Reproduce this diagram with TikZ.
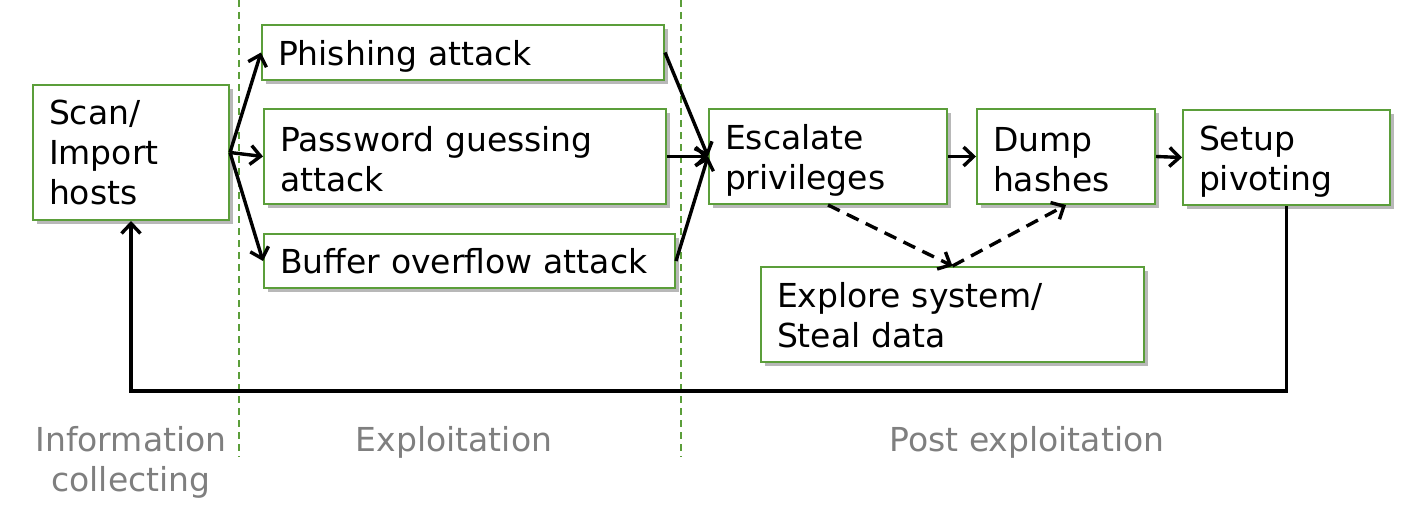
\documentclass[tikz,border=0pt]{standalone}
\usepackage{fontspec}
\setmainfont{DejaVu Sans}
\usetikzlibrary{arrows.meta,shadows}
\definecolor{boxgreen}{HTML}{5B9E3A}
\definecolor{labelgray}{HTML}{7F7F7F}
\begin{document}
\begin{tikzpicture}[x=1pt,y=-1pt,
  box/.style={draw=boxgreen, line width=2pt, fill=white, inner xsep=16pt, inner ysep=0pt,
    align=left, font=\fontsize{33}{40}\selectfont,
    drop shadow={shadow xshift=4pt,shadow yshift=-4pt,fill=black,opacity=0.28}},
  arr/.style={line width=3.4pt, line join=miter, -{Straight Barb[length=10pt,width=19pt]}},
  darr/.style={arr, dash pattern=on 13pt off 8pt},
  phase/.style={draw=boxgreen, line width=1.5pt, dash pattern=on 7pt off 5pt},
  lbl/.style={text=labelgray, align=center, font=\fontsize{33}{40}\selectfont, inner sep=0pt}]
\useasboundingbox (0,0) rectangle (1405,519);

% phase separators
\coordinate (d1t) at (239,0);
\coordinate (d1b) at (239,457);
\coordinate (d2t) at (681,0);
\coordinate (d2b) at (681,457);
\draw[phase] (d1t) -- (d1b);
\draw[phase] (d2t) -- (d2b);

% boxes
\node[box, text width=164pt, minimum height=135pt] (scan) at (131,152.5) {Scan/\\Import\\hosts};
\node[box, text width=370pt, minimum height=55pt] (phish) at (463,52.5) {\rule{0pt}{33pt}Phishing attack};
\node[box, text width=370pt, minimum height=95pt] (pass) at (465,156.5) {\rule{0pt}{30pt}Password guessing\\attack};
\node[box, text width=379pt, minimum height=54pt] (buf) at (469.5,261) {Buffer overflow attack};
\node[box, text width=206pt, minimum height=95pt] (esc) at (828,156.5) {\rule{0pt}{33pt}Escalate\\privileges};
\node[box, text width=146pt, minimum height=95pt] (dump) at (1066,156.5) {\rule{0pt}{30pt}Dump\\hashes};
\node[box, text width=175pt, minimum height=95pt] (setup) at (1286.5,157.5) {\rule{0pt}{33pt}Setup\\pivoting};
\node[box, text width=351pt, minimum height=95pt] (expl) at (952.5,314.5) {\rule{0pt}{27pt}Explore system/\\Steal data};

% connectors
\draw[arr] (scan.east) -- (phish.west);
\draw[arr] (scan.east) -- (pass.west);
\draw[arr] (scan.east) -- (buf.west);
\draw[arr] (phish.east) -- (esc.west);
\draw[arr] (pass.east) -- (esc.west);
\draw[arr] (buf.east) -- (esc.west);
\draw[arr] (esc.east) -- (dump.west);
\draw[arr] (dump.east) -- (setup.west);
\draw[darr] (esc.south) -- (expl.north);
\draw[darr] (expl.north) -- (dump.south);
\coordinate (fb) at (1286.5,391);
\draw[arr] (setup.south) -- (setup.south |- fb) -| (scan.south);

% phase labels
\node[lbl] (info) at (131,462) {Information\\collecting};
\node[lbl] (exploit) at (454,442) {Exploitation};
\node[lbl] (post) at (1027,442) {Post exploitation};
\end{tikzpicture}
\end{document}
